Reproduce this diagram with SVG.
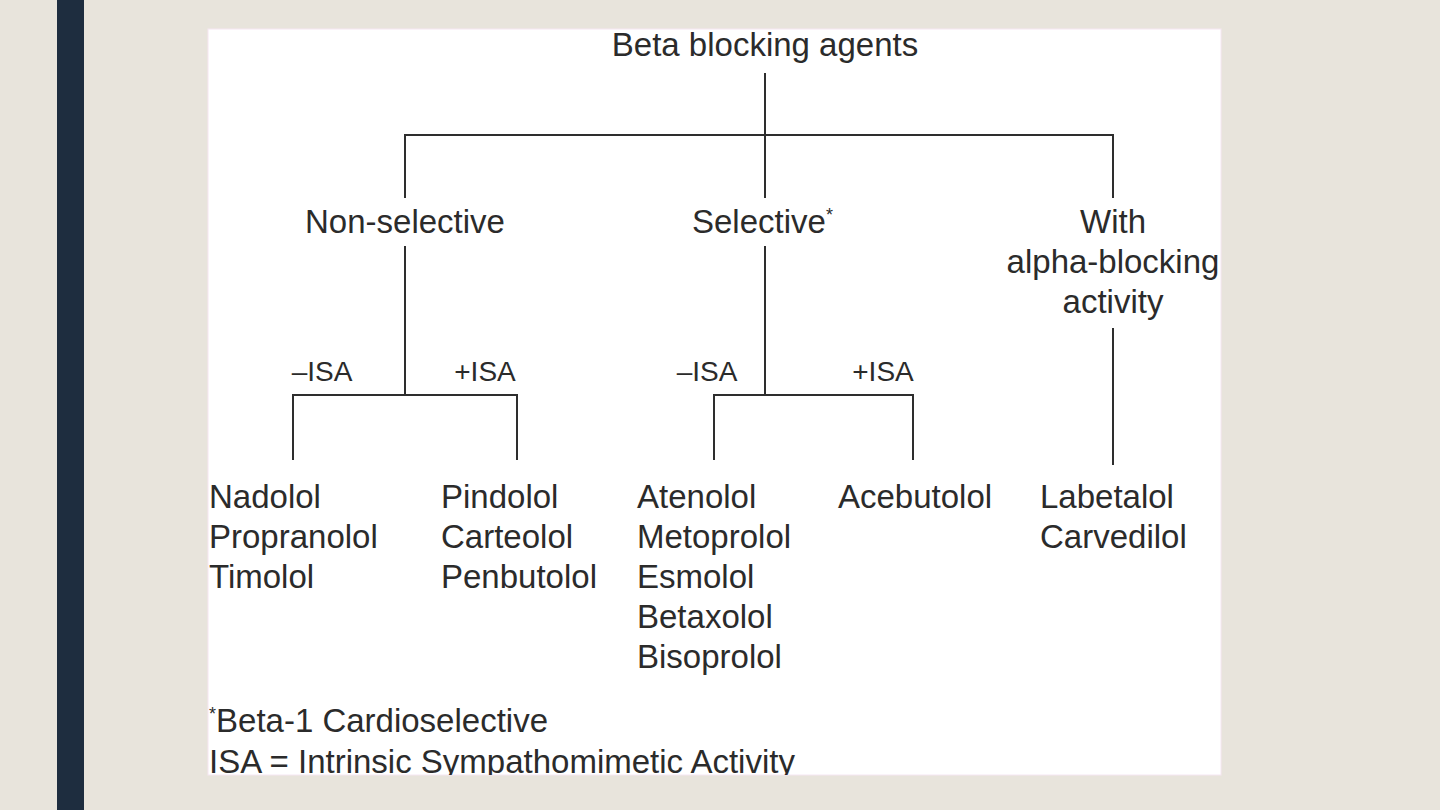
<svg xmlns="http://www.w3.org/2000/svg" width="1440" height="810" viewBox="0 0 1440 810">
  <style>
    .t { font-family: "Liberation Sans", Arial, sans-serif; font-size: 33px; fill: #2b2b2b; }
    .s { font-family: "Liberation Sans", Arial, sans-serif; font-size: 28px; fill: #2b2b2b; text-anchor: middle; }
    .c { text-anchor: middle; }
    .ln { stroke: #2e2e2e; stroke-width: 2; fill: none; }
  </style>
  <defs>
    <clipPath id="panel"><rect x="208" y="29" width="1013" height="746"/></clipPath>
  </defs>
  <rect x="0" y="0" width="1440" height="810" fill="#e8e4dc"/>
  <rect x="57" y="0" width="27" height="810" fill="#1e2d3f"/>
  <rect x="208" y="29" width="1013" height="746" fill="#ffffff" stroke="#f5e6f2" stroke-width="1"/>

  <g id="connectors">
    <path class="ln" d="M765 73 V198"/>
    <path class="ln" d="M405 198 V135 H1113 V198"/>
    <path class="ln" d="M405 246 V395"/>
    <path class="ln" d="M293 460 V395 H517 V460"/>
    <path class="ln" d="M765 246 V395"/>
    <path class="ln" d="M714 460 V395 H913 V460"/>
    <path class="ln" d="M1113 328 V465"/>
  </g>

  <g id="root"><text class="t c" x="765" y="56">Beta blocking agents</text></g>
  <g id="nonselective"><text class="t c" x="405" y="233">Non-selective</text></g>
  <g id="selective"><text class="t" x="692" y="233">Selective<tspan font-size="18" dy="-12">*</tspan></text></g>
  <g id="alpha">
    <text class="t c" x="1113" y="233">With</text>
    <text class="t c" x="1113" y="273">alpha-blocking</text>
    <text class="t c" x="1113" y="313">activity</text>
  </g>
  <g id="ns-minus"><text class="s" x="322" y="381">–ISA</text></g>
  <g id="ns-plus"><text class="s" x="485" y="381">+ISA</text></g>
  <g id="s-minus"><text class="s" x="707" y="381">–ISA</text></g>
  <g id="s-plus"><text class="s" x="883" y="381">+ISA</text></g>

  <g id="ns-minus-drugs">
    <text class="t" x="209" y="508">Nadolol</text>
    <text class="t" x="209" y="548">Propranolol</text>
    <text class="t" x="209" y="588">Timolol</text>
  </g>
  <g id="ns-plus-drugs">
    <text class="t" x="441" y="508">Pindolol</text>
    <text class="t" x="441" y="548">Carteolol</text>
    <text class="t" x="441" y="588">Penbutolol</text>
  </g>
  <g id="s-minus-drugs">
    <text class="t" x="637" y="508">Atenolol</text>
    <text class="t" x="637" y="548">Metoprolol</text>
    <text class="t" x="637" y="588">Esmolol</text>
    <text class="t" x="637" y="628">Betaxolol</text>
    <text class="t" x="637" y="668">Bisoprolol</text>
  </g>
  <g id="s-plus-drugs">
    <text class="t" x="838" y="508">Acebutolol</text>
  </g>
  <g id="alpha-drugs">
    <text class="t" x="1040" y="508">Labetalol</text>
    <text class="t" x="1040" y="548">Carvedilol</text>
  </g>

  <g id="footnote" clip-path="url(#panel)">
    <text class="t" x="209" y="732"><tspan font-size="18" dy="-12">*</tspan><tspan dy="12">Beta-1 Cardioselective</tspan></text>
    <text class="t" x="209" y="773">ISA = Intrinsic Sympathomimetic Activity</text>
  </g>
</svg>
